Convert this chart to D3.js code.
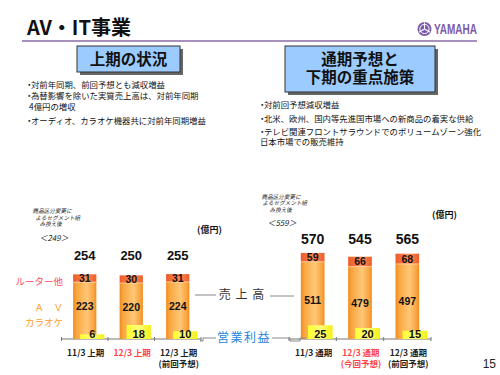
<!DOCTYPE html>
<html>
<head>
<meta charset="utf-8">
<script src="https://cdn.jsdelivr.net/npm/d3@7"></script>
<style>
  body { margin: 0; background: #fff; }
  svg { display: block; }
</style>
</head>
<body>
<div id="chart"></div>
<script>
// first half (上期)
var halfCats = ['11/3 上期', '12/3 上期', '12/3 上期']
var halfSubs = ['', '', '(前回予想)']
var halfAv = [223, 220, 224]
var halfRouter = [31, 30, 31]
var halfTotal = [254, 250, 255]
var halfProfit = [6, 18, 10]

// full year (通期)
var fullCats = ['11/3 通期', '12/3 通期', '12/3 通期']
var fullSubs = ['', '(今回予想)', '(前回予想)']
var fullAv = [511, 479, 497]
var fullRouter = [59, 66, 68]
var fullTotal = [570, 545, 565]
var fullProfit = [25, 20, 15]

var catColors = ['#222', '#ff4444', '#222']

var leftBullets = ['対前年同期、前回予想とも減収増益', '為替影響を除いた実質売上高は、対前年同期', '', 'オーディオ、カラオケ機器共に対前年同期増益']
var rightBullets = ['対前回予想減収増益', '北米、欧州、国内等先進国市場への新商品の着実な供給', 'テレビ関連フロントサラウンドでのボリュームゾーン強化', '']

var JP = '"Noto Sans CJK JP", sans-serif'
var NUM = '"Liberation Sans", Arial, sans-serif'

var w = 500
var h = 375

var svg = d3.select('#chart').append('svg')
  .attr('width', w)
  .attr('height', h)

var defs = svg.append('defs')

function hgrad (id, stops) {
  var g = defs.append('linearGradient').attr('id', id)
    .attr('x1', '0%').attr('x2', '100%').attr('y1', '0%').attr('y2', '0%')
  stops.forEach(function (s) {
    g.append('stop').attr('offset', s[0]).attr('stop-color', s[1])
  })
}
hgrad('orange', [['0%', '#f08a1a'], ['15%', '#f9a640'], ['60%', '#ffc777'], ['90%', '#f8a23c'], ['100%', '#ef8a1c']])
hgrad('cap', [['0%', '#ec5a26'], ['55%', '#ff8a56'], ['100%', '#ec5e2a']])
hgrad('yellow', [['0%', '#ffff30'], ['50%', '#ffff7a'], ['100%', '#f4f010']])

// header
svg.append('text').text('AV・IT事業')
  .attr('x', 27).attr('y', 35)
  .style('font-family', JP).style('font-size', '20px').style('font-weight', 'bold')
  .attr('fill', '#111')

svg.append('line')
  .attr('x1', 22).attr('x2', 477).attr('y1', 41).attr('y2', 41)
  .attr('stroke', '#8a6aa8').attr('stroke-width', 1.5)

// yamaha logo
svg.append('circle').attr('cx', 424.5).attr('cy', 29).attr('r', 7).attr('fill', '#7d5aa8')
svg.append('circle').attr('cx', 424.5).attr('cy', 29).attr('r', 4.6).attr('fill', 'none').attr('stroke', '#fff').attr('stroke-width', 1)
;[0, 120, 240].forEach(function (a) {
  svg.append('line')
    .attr('x1', 424.5).attr('y1', 29).attr('x2', 424.5).attr('y2', 22.5)
    .attr('transform', 'rotate(' + a + ' 424.5 29)')
    .attr('stroke', '#fff').attr('stroke-width', 1)
})
svg.append('text').text('YAMAHA')
  .attr('x', 434).attr('y', 34)
  .attr('textLength', 43).attr('lengthAdjust', 'spacingAndGlyphs')
  .style('font-family', NUM).style('font-size', '14px').style('font-weight', 'bold')
  .attr('fill', '#7d5aa8')

// title boxes
function title_box (x, y, bw, bh, lines) {
  svg.append('rect').attr('x', x + 3).attr('y', y + 3).attr('width', bw).attr('height', bh).attr('fill', '#666')
  svg.append('rect').attr('x', x).attr('y', y).attr('width', bw).attr('height', bh)
    .attr('fill', '#9cccff').attr('stroke', '#333').attr('stroke-width', 1)
  lines.forEach(function (t, i) {
    svg.append('text').text(t)
      .attr('x', x + bw / 2).attr('y', y + 13 + i * 18.5)
      .attr('dy', '0.36em')
      .attr('text-anchor', 'middle')
      .style('font-family', JP).style('font-size', '15.5px').style('font-weight', 'bold')
      .attr('fill', '#111')
  })
}
title_box(77, 46, 103, 26, ['上期の状況'])
title_box(285, 46, 150, 46, ['通期予想と', '下期の重点施策'])

// bullets
function bullets (x, ys, items, extra) {
  items.forEach(function (t, i) {
    if (t === '') return
    svg.append('text').text('･').attr('x', x - 4).attr('y', ys[i]).attr('dy', '0.35em')
      .style('font-family', JP).style('font-size', '9px').style('font-weight', 'bold').attr('fill', '#111')
    svg.append('text').text(t).attr('x', x).attr('y', ys[i]).attr('dy', '0.35em')
      .style('font-family', JP).style('font-size', '8.4px').attr('fill', '#111')
  })
  svg.append('text').text(extra[0]).attr('x', extra[1]).attr('y', extra[2]).attr('dy', '0.35em')
    .style('font-family', JP).style('font-size', '8.4px').attr('fill', '#111')
}
bullets(31, [85, 96.2, 107, 120.7], leftBullets, ['4億円の増収', 29, 107])
bullets(264, [105, 119, 131.8, 142.2], rightBullets, ['日本市場での販売維持', 260, 142.2])

var baseY = 339

function panel (o) {
  var x = d3.scaleBand().domain(d3.range(o.cats.length))
    .range(o.xr).paddingInner(0.5).paddingOuter(0.25)
  var y = d3.scaleLinear().domain([0, o.max]).range([baseY, baseY - o.px])
  var yp = d3.scaleLinear().domain([0, 30]).range([0, o.ppx])
  var bw = x.bandwidth()
  var off = bw * 0.3

  var g = svg.append('g')

  // baseline with ticks at category boundaries
  g.append('line').attr('x1', o.xr[0]).attr('x2', o.xr[1]).attr('y1', baseY).attr('y2', baseY)
    .attr('stroke', '#777').attr('stroke-width', 1)
  var bounds = d3.range(o.cats.length + 1).map(function (i) {
    return i < o.cats.length ? x(i) - x.step() * 0.25 : o.xr[1]
  })
  g.selectAll('.tick').data(bounds).enter().append('line')
    .attr('x1', function (d) { return d }).attr('x2', function (d) { return d })
    .attr('y1', baseY - 2).attr('y2', baseY + 2)
    .attr('stroke', '#777')

  o.cats.forEach(function (c, i) {
    var bx = x(i)
    var capTop = y(o.total[i])
    var capBot = y(o.av[i])
    // av + karaoke
    g.append('rect').attr('x', bx).attr('y', capBot).attr('width', bw).attr('height', baseY - capBot)
      .attr('fill', 'url(#orange)')
    // router etc
    g.append('rect').attr('x', bx).attr('y', capTop).attr('width', bw).attr('height', capBot - capTop)
      .attr('fill', 'url(#cap)')
    g.append('line').attr('x1', bx).attr('x2', bx + bw).attr('y1', capBot).attr('y2', capBot)
      .attr('stroke', '#ffd9b0').attr('stroke-width', 0.8)

    g.append('text').text(o.router[i])
      .attr('x', bx + bw / 2).attr('y', (capTop + capBot) / 2).attr('dy', '0.36em')
      .attr('text-anchor', 'middle')
      .style('font-family', NUM).style('font-size', '10.5px').style('font-weight', 'bold').attr('fill', '#111')
    g.append('text').text(o.av[i])
      .attr('x', bx + bw / 2).attr('y', (capBot + baseY) / 2 - o.avShift).attr('dy', '0.36em')
      .attr('text-anchor', 'middle')
      .style('font-family', NUM).style('font-size', '10.5px').style('font-weight', 'bold').attr('fill', '#111')
    g.append('text').text(o.total[i])
      .attr('x', bx + bw / 2).attr('y', o.totalY).attr('dy', '0.36em')
      .attr('text-anchor', 'middle')
      .style('font-family', NUM).style('font-size', o.totalSize).style('font-weight', 'bold').attr('fill', '#111')

    // operating profit
    var ph = yp(o.profit[i])
    g.append('rect').attr('x', bx + off).attr('y', baseY - ph).attr('width', bw + 1).attr('height', ph)
      .attr('fill', 'url(#yellow)')
    g.append('text').text(o.profit[i])
      .attr('x', bx + off + (bw + 1) / 2).attr('y', baseY - 1.5)
      .attr('text-anchor', 'middle')
      .style('font-family', NUM).style('font-size', '11px').style('font-weight', 'bold').attr('fill', '#111')

    // category labels
    g.append('text').text(c)
      .attr('x', bx + bw / 2 + 1).attr('y', 352.7).attr('dy', '0.36em')
      .attr('text-anchor', 'middle')
      .style('font-family', JP).style('font-size', '8.5px').style('font-weight', 'bold').attr('fill', catColors[i])
    if (o.subs[i]) {
      g.append('text').text(o.subs[i])
        .attr('x', bx + bw / 2 + 1).attr('y', 364).attr('dy', '0.36em')
        .attr('text-anchor', 'middle')
        .style('font-family', JP).style('font-size', '8.5px').style('font-weight', 'bold').attr('fill', catColors[i])
    }
  })

  // note
  o.note.forEach(function (t, i) {
    g.append('text').text(t)
      .attr('transform', 'translate(' + o.noteX[i] + ',' + o.noteY[i] + ') skewX(-12)')
      .attr('dy', '0.35em')
      .style('font-family', JP).style('font-size', '5.6px').attr('fill', '#222')
  })
  g.append('text').text(o.prev)
    .attr('transform', 'translate(' + o.prevXY[0] + ',' + o.prevXY[1] + ') skewX(-12)')
    .attr('dy', '0.35em')
    .style('font-family', JP).style('font-size', '8px').attr('fill', '#222')

  g.append('text').text('(億円)')
    .attr('x', o.unitXY[0]).attr('y', o.unitXY[1]).attr('dy', '0.35em')
    .style('font-family', JP).style('font-size', '9px').style('font-weight', 'bold').attr('fill', '#111')
}

var noteLines = ['商品区分変更に', 'よるセグメント組', 'み換え後']

panel({
  cats: halfCats, subs: halfSubs, av: halfAv, router: halfRouter, total: halfTotal, profit: halfProfit,
  xr: [61.5, 201], max: 300, px: 76.4, ppx: 23.4,
  totalY: 255, totalSize: '13px', avShift: 4,
  note: noteLines, noteX: [33, 36, 40], noteY: [211, 218, 224.5],
  prev: '＜249＞', prevXY: [40, 238], unitXY: [197, 230]
})
panel({
  cats: fullCats, subs: fullSubs, av: fullAv, router: fullRouter, total: fullTotal, profit: fullProfit,
  xr: [289, 431], max: 600, px: 90.6, ppx: 16.5,
  totalY: 239, totalSize: '14px', avShift: 0,
  note: noteLines, noteX: [262, 263, 270], noteY: [197, 203.5, 210],
  prev: '＜559＞', prevXY: [268, 223], unitXY: [432, 215]
})

// legend on the left
var legend = [['ルーター他', '#ff4a66', 282], ['Ａ　Ｖ', '#ff9c1e', 308], ['カラオケ', '#ff9c2a', 323]]
legend.forEach(function (l) {
  svg.append('text').text(l[0])
    .attr('x', 63).attr('y', l[2]).attr('dy', '0.35em')
    .attr('text-anchor', 'end')
    .style('font-family', JP).style('font-size', '9.5px').attr('fill', l[1])
})

// connector labels
svg.append('line').attr('x1', 195).attr('x2', 216).attr('y1', 295).attr('y2', 295).attr('stroke', '#888')
svg.append('line').attr('x1', 270).attr('x2', 294).attr('y1', 296).attr('y2', 296).attr('stroke', '#888')
svg.append('text').text('売 上 高')
  .attr('x', 242).attr('y', 295).attr('dy', '0.36em').attr('text-anchor', 'middle')
  .style('font-family', JP).style('font-size', '12px').style('letter-spacing', '1px').attr('fill', '#333')

svg.append('polyline').attr('points', '200,341 203,341 203,338 216,338')
  .attr('fill', 'none').attr('stroke', '#888')
svg.append('polyline').attr('points', '272,338 290,338 290,341 300,341 300,338 306,338')
  .attr('fill', 'none').attr('stroke', '#888')
svg.append('text').text('営業利益')
  .attr('x', 244).attr('y', 338).attr('dy', '0.36em').attr('text-anchor', 'middle')
  .style('font-family', JP).style('font-size', '12px').style('letter-spacing', '1.5px').attr('fill', '#1f86e0')

// page number
svg.append('text').text('15')
  .attr('x', 496).attr('y', 364).attr('dy', '0.36em').attr('text-anchor', 'end')
  .style('font-family', NUM).style('font-size', '12px').attr('fill', '#222')
</script>
</body>
</html>
